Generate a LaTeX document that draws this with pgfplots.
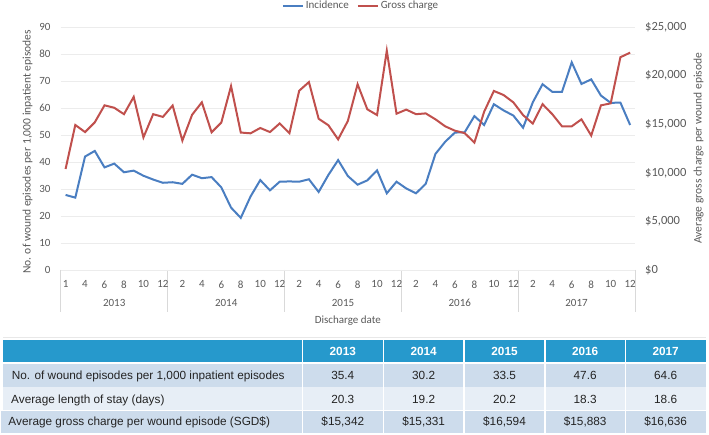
\documentclass[border=0pt]{standalone}
\usepackage{fontspec}
\setmainfont{Carlito}
\newfontfamily\arialf{Liberation Sans}
\usepackage{pgfplots}
\usepackage{pgfplotstable}
\pgfplotsset{compat=1.18}
\definecolor{incblue}{RGB}{74,126,193}
\definecolor{gcred}{RGB}{192,80,77}
\definecolor{tickgray}{RGB}{89,89,89}
\definecolor{gridgray}{RGB}{236,236,236}
\definecolor{sepgray}{RGB}{217,217,217}
\definecolor{hdrblue}{RGB}{38,153,204}
\definecolor{rowa}{RGB}{205,220,236}
\definecolor{rowb}{RGB}{231,238,246}
\definecolor{tabtext}{RGB}{35,35,35}

\pgfplotstableread{
idx inc gc
0 27.8 10390
1 26.8 14920
2 42.0 14190
3 44.1 15190
4 38.0 16940
5 39.4 16690
6 36.2 16030
7 36.8 17810
8 34.9 13640
9 33.5 16030
10 32.3 15750
11 32.5 16920
12 31.9 13310
13 35.3 15970
14 34.0 17250
15 34.4 14170
16 30.6 15170
17 23.1 18920
18 19.3 14140
19 27.2 14060
20 33.3 14610
21 29.5 14190
22 32.7 15080
23 32.8 14080
24 32.7 18440
25 33.6 19330
26 28.9 15560
27 35.2 14890
28 40.7 13440
29 34.8 15330
30 31.6 19110
31 33.2 16530
32 36.9 15940
33 28.4 22560
34 32.7 16080
35 30.2 16500
36 28.4 16030
37 31.9 16110
38 43.0 15500
39 47.5 14780
40 50.9 14330
41 51.0 14080
42 57.0 13110
43 53.7 16280
44 61.4 18420
45 59.1 18000
46 57.2 17250
47 52.7 15940
48 62.1 15060
49 68.8 17060
50 66.0 16030
51 66.0 14780
52 76.9 14780
53 68.9 15500
54 70.6 13830
55 64.6 16940
56 61.9 17140
57 62.0 21890
58 53.7 22360
}\datatable

\newcommand{\chf}{\fontsize{11bp}{13bp}\selectfont}
\newcommand{\rtf}{\fontsize{12.5bp}{14bp}\selectfont}
\newcommand{\tbf}{\arialf\fontsize{11.8bp}{14bp}\selectfont}

\pgfplotsset{basechart/.style={
  scale only axis, width=574.3bp, height=243bp,
  at={(60.7bp,165bp)}, anchor=south west,
  xmin=-0.5, xmax=58.5,
  axis line style={draw=none},
  tick style={draw=none},
  major tick length=0pt,
  scaled ticks=false,
}}

\begin{document}
\begin{tikzpicture}[x=1bp,y=1bp]
\path[use as bounding box] (0,0) rectangle (709,435);

% x axis line and category separators
\draw[sepgray, line width=0.75bp] (60.7,165) -- (635,165);
\foreach \sx in {60.7,167.8,284.6,401.4,518.1,635.0}
  \draw[sepgray, line width=0.75bp] (\sx,165) -- (\sx,123.3);

\begin{axis}[basechart,
  ymin=0, ymax=90,
  ytick={0,10,20,30,40,50,60,70,80,90},
  yticklabels={0,10,20,30,40,50,60,70,80,90},
  ymajorgrids, grid style={gridgray, line width=0.75bp},
  yticklabel style={font=\chf, text=tickgray, inner sep=0pt, xshift=-10bp},
  xtick={0,2,...,58},
  xticklabels={1,4,6,8,10,12,2,4,6,8,10,12,2,4,6,8,10,12,2,4,6,8,10,12,2,4,6,8,10,12},
  xticklabel style={font=\chf, text=tickgray, inner sep=0pt, yshift=-10.5bp, anchor=north},
]
\addplot[incblue, line width=2bp] table[x=idx, y=inc] {\datatable};
\end{axis}

\begin{axis}[basechart,
  ymin=0, ymax=25000,
  ytick={0,5000,10000,15000,20000,25000},
  yticklabels={{\$0},{\$5,000},{\$10,000},{\$15,000},{\$20,000},{\$25,000}},
  yticklabel pos=right,
  yticklabel style={font=\rtf, text=tickgray, inner sep=0pt, xshift=10bp, anchor=west},
  xtick=\empty,
  legend columns=2,
  legend image code/.code={\draw[#1] (0bp,0bp) -- (20bp,0bp);},
  legend style={at={(0.523,1.0877)}, anchor=center, draw=none, fill=none,
    font=\chf, text=tickgray, inner sep=0pt,
    /tikz/every even column/.append style={column sep=6bp}},
]
\addlegendimage{incblue, line width=2bp}
\addlegendentry{Incidence}
\addplot[gcred, line width=2bp] table[x=idx, y=gc] {\datatable};
\addlegendentry{Gross charge}
\end{axis}

% year labels and axis titles
\foreach \yx/\yr in {114.2/2013,226.2/2014,343.0/2015,459.8/2016,576.5/2017}
  \node[font=\chf, text=tickgray, inner sep=0pt] at (\yx,131.7) {\yr};
\node[font=\chf, text=tickgray, inner sep=0pt] at (347.85,114.3) {Discharge date};
\node[font=\fontsize{11.5bp}{13bp}\selectfont, text=tickgray, inner sep=0pt, rotate=90, anchor=base] at (30.7,283) {No. of wound episodes per 1,000 inpatient episodes};
\node[font=\fontsize{11.5bp}{13bp}\selectfont, text=tickgray, inner sep=0pt, rotate=90, anchor=base] at (701.5,286.5) {Average gross charge per wound episode};

% table
\fill[sepgray!60] (3.3,96.5) rectangle (706,97.5);
\fill[hdrblue] (3.3,72.7) rectangle (706,95);
\fill[rowa] (3.3,48.3) rectangle (706,70.7);
\fill[rowb] (3.3,25) rectangle (706,47.7);
\fill[rowa] (1,1.7) rectangle (706,24);
\foreach \cx in {302.3,383.3,464,545,625.3}
  \fill[white] (\cx-0.75,0) rectangle (\cx+0.75,96);

\foreach \cx/\t in {342.8/2013,423.65/2014,504.5/2015,585.15/2016,665.65/2017}
  \node[font=\tbf\bfseries, text=white, inner sep=0pt, anchor=base] at (\cx,79) {\t};

\node[font=\tbf, text=tabtext, inner sep=0pt, anchor=base west] at (11.7,55) {No. of wound episodes per 1,000 inpatient episodes};
\node[font=\tbf, text=tabtext, inner sep=0pt, anchor=base west] at (11,31.7) {Average length of stay (days)};
\node[font=\tbf, text=tabtext, inner sep=0pt, anchor=base west] at (8.3,9) {Average gross charge per wound episode (SGD\$)};

\foreach \cx/\t in {342.8/35.4,423.65/30.2,504.5/33.5,585.15/47.6,665.65/64.6}
  \node[font=\tbf, text=tabtext, inner sep=0pt, anchor=base] at (\cx,55) {\t};
\foreach \cx/\t in {342.8/20.3,423.65/19.2,504.5/20.2,585.15/18.3,665.65/18.6}
  \node[font=\tbf, text=tabtext, inner sep=0pt, anchor=base] at (\cx,31.7) {\t};
\foreach \cx/\t in {342.8/{\$15,342},423.65/{\$15,331},504.5/{\$16,594},585.15/{\$15,883},665.65/{\$16,636}}
  \node[font=\tbf, text=tabtext, inner sep=0pt, anchor=base] at (\cx,9) {\t};
\end{tikzpicture}
\end{document}
